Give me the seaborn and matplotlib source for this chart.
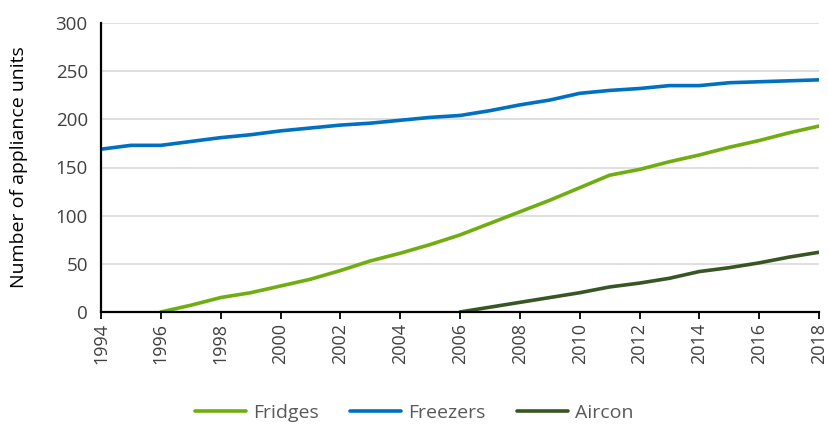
import numpy as np
import pandas as pd
import matplotlib
matplotlib.use("Agg")
import matplotlib.pyplot as plt
import seaborn as sns

years = list(range(1994, 2019))
freezers = [169, 173, 173, 177, 181, 184, 188, 191, 194, 196, 199, 202, 204,
            209, 215, 220, 227, 230, 232, 235, 235, 238, 239, 240, 241]
fridge_years = list(range(1996, 2019))
fridges = [0, 7, 15, 20, 27, 34, 43, 53, 61, 70, 80, 92, 104, 116, 129, 142,
           148, 156, 163, 171, 178, 186, 193]
aircon_years = list(range(2006, 2019))
aircon = [0, 5, 10, 15, 20, 26, 30, 35, 42, 46, 51, 57, 62]

df = pd.concat([
    pd.DataFrame({'Year': fridge_years, 'Units': fridges, 'Type': 'Fridges'}),
    pd.DataFrame({'Year': years, 'Units': freezers, 'Type': 'Freezers'}),
    pd.DataFrame({'Year': aircon_years, 'Units': aircon, 'Type': 'Aircon'}),
])

sns.set_style('white')
plt.rcParams['font.family'] = ['Open Sans', 'DejaVu Sans']

pal = {'Fridges': '#70AD10', 'Freezers': '#0070C0', 'Aircon': '#375623'}

fig = plt.figure(figsize=(8.29, 4.26), dpi=100)
ax = fig.add_axes([101 / 829, 1 - 312 / 426, 718 / 829, 289 / 426])

sns.lineplot(data=df, x='Year', y='Units', hue='Type', palette=pal,
             linewidth=2.6, ax=ax, legend=True)

ax.set_xlim(1994, 2018)
ax.set_ylim(0, 300)
ax.set_xticks(range(1994, 2019, 2))
ax.set_yticks(range(0, 301, 50))
ax.tick_params(axis='x', labelrotation=90, labelsize=13, length=5, width=1.3,
               direction='out', bottom=True, color='black', labelcolor='#404040',
               pad=3)
ax.tick_params(axis='y', labelsize=13.5, left=False, labelcolor='#404040', pad=6)
ax.grid(axis='y', color='#d9d9d9', linewidth=1.2)
ax.set_axisbelow(True)

sns.despine(ax=ax, top=True, right=True)
for s in ['left', 'bottom']:
    ax.spines[s].set_color('black')
    ax.spines[s].set_linewidth(1.6)

ax.set_xlabel('')
ax.set_ylabel('Number of appliance units', fontsize=14, color='black')
ax.yaxis.set_label_coords(-0.102, 0.5)

# move legend below the plot, centred on the figure
handles, labels = ax.get_legend_handles_labels()
ax.get_legend().remove()
fig.legend(handles, labels, loc='center', bbox_to_anchor=(0.5, 1 - 413 / 426),
           ncol=3, frameon=False, fontsize=14, handlelength=2.6,
           columnspacing=1.6, handletextpad=0.4, labelcolor='#595959')

fig.savefig('out.png', dpi=100)
